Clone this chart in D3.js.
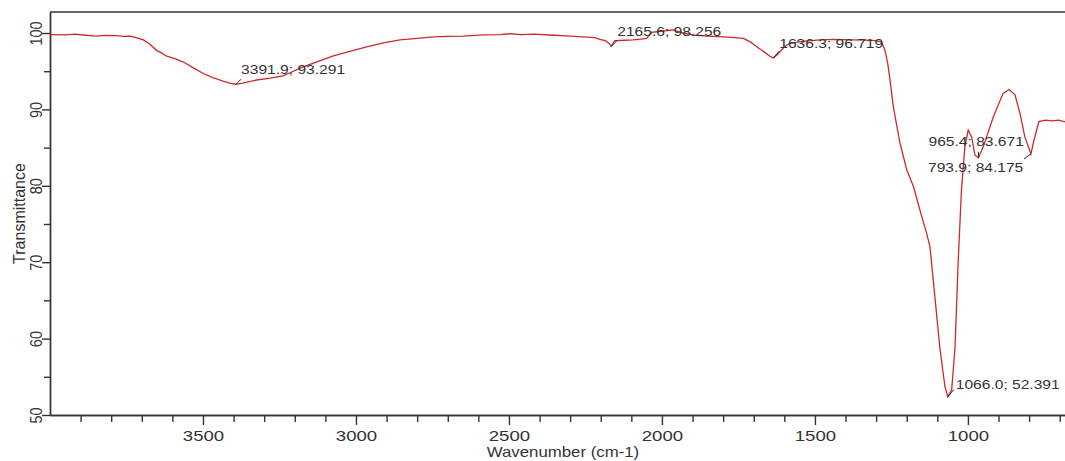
<!DOCTYPE html>
<html lang="en">
<head>
<meta charset="UTF-8">
<title>FTIR spectrum</title>
<script src="https://cdnjs.cloudflare.com/ajax/libs/d3/7.8.5/d3.min.js"></script>
<style>
    body { margin: 0; background: #fff; }
    svg { display: block; font-family: "Liberation Sans", Arial, sans-serif; }
    .axis path, .axis line { stroke: #333; stroke-width: 1.4; }
    .axis text { fill: #333; }
</style>
</head>
<body>
<svg id="chart" width="1065" height="461"></svg>
<script>
// spectrum (wavenumber, transmittance)
var wavenumber = [4000, 3950, 3920, 3891, 3850, 3820, 3782, 3760, 3740, 3728, 3710, 3695, 3675, 3651, 3640,
    3620, 3590, 3564, 3530, 3499, 3470, 3434, 3410, 3391.9, 3370, 3325, 3280, 3238, 3210, 3183, 3130, 3074,
    3020, 2965, 2910, 2856, 2800, 2747, 2700, 2650, 2584, 2530, 2497, 2460, 2420, 2366, 2300, 2258, 2220,
    2203, 2185, 2172, 2165.6, 2154, 2120, 2095, 2070, 2050, 2034, 2010, 1964, 1930, 1898, 1850, 1800, 1760,
    1734, 1710, 1690, 1665, 1645, 1636.3, 1625, 1614, 1600, 1582, 1540, 1494, 1440, 1380, 1331, 1300, 1282,
    1270, 1262, 1255, 1244, 1222, 1200, 1178, 1151, 1135, 1124, 1108, 1092, 1075, 1066, 1053, 1042, 1032,
    1021, 1010, 999, 988, 977, 965.4, 950, 917, 885, 865, 846, 830, 814, 793.9, 784, 768, 746, 724, 703, 686, 660];
var transmittance = [99.8, 99.75, 99.85, 99.74, 99.6, 99.7, 99.65, 99.55, 99.6, 99.5, 99.3, 99.1, 98.6, 97.7, 97.5,
    97.0, 96.6, 96.2, 95.4, 94.7, 94.2, 93.7, 93.4, 93.291, 93.45, 93.85, 94.1, 94.4, 94.9, 95.4, 96.2, 97.0,
    97.6, 98.2, 98.7, 99.1, 99.3, 99.5, 99.55, 99.6, 99.75, 99.8, 99.9, 99.8, 99.85, 99.74, 99.6, 99.5, 99.4,
    99.17, 99.0, 98.6, 98.256, 99.0, 99.05, 99.1, 99.2, 99.3, 100.1, 100.2, 100.4, 100.0, 99.74, 99.6, 99.5, 99.4,
    99.3, 98.8, 98.2, 97.5, 96.9, 96.719, 97.1, 97.55, 98.2, 98.65, 98.9, 99.08, 99.17, 99.1, 99.08, 99.0, 98.8,
    97.6, 96.0, 94.0, 90.4, 85.6, 82.1, 79.9, 76.0, 73.8, 72.0, 65.5, 58.9, 53.7, 52.391, 53.3, 58.9, 69.9,
    79.5, 85.1, 87.3, 86.4, 84.0, 83.671, 85.1, 89.0, 92.1, 92.6, 91.9, 89.5, 86.4, 84.175, 86.0, 88.4, 88.6, 88.5, 88.6, 88.4, 88.5];

// peak labels
var peakX = [3391.9, 2165.6, 1636.3, 965.4, 793.9, 1066.0];
var peakY = [93.291, 98.256, 96.719, 83.671, 84.175, 52.391];
var peakText = ["3391.9; 93.291", "2165.6; 98.256", "1636.3; 96.719", "965.4; 83.671", "793.9; 84.175", "1066.0; 52.391"];

var xMajor = [3500, 3000, 2500, 2000, 1500, 1000];
var yMajor = [50, 60, 70, 80, 90, 100];

var svg = d3.select("#chart");
var plotLeft = 50, plotTop = 12, plotBottom = 415;

var x = d3.scaleLinear().domain([4000, 650]).range([plotLeft, 1075]);
var y = d3.scaleLinear().domain([50, 102.75]).range([plotBottom, plotTop]);

// minor ticks every 100 / every 5
var xMinor = d3.range(700, 4000, 100).filter(v => v % 500 !== 0);
var yMinor = d3.range(55, 100, 10);

svg.append("g").attr("class", "axis")
    .attr("transform", "translate(0," + plotBottom + ")")
    .call(d3.axisBottom(x).tickValues(xMinor).tickSize(7).tickFormat("").tickSizeOuter(0));

var xa = svg.append("g").attr("class", "axis")
    .attr("transform", "translate(0," + plotBottom + ")")
    .call(d3.axisBottom(x).tickValues(xMajor).tickSize(10).tickSizeOuter(0).tickFormat(d3.format("d")));
xa.selectAll("text")
    .attr("y", 0).attr("dy", null)
    .attr("transform", "translate(0,26) scale(1.2,1)")
    .style("font-size", "15.5px");

svg.append("g").attr("class", "axis")
    .attr("transform", "translate(" + plotLeft + ",0)")
    .call(d3.axisLeft(y).tickValues(yMinor).tickSize(6).tickFormat("").tickSizeOuter(0));

var ya = svg.append("g").attr("class", "axis")
    .attr("transform", "translate(" + plotLeft + ",0)")
    .call(d3.axisLeft(y).tickValues(yMajor).tickSize(8).tickSizeOuter(0).tickFormat(d3.format("d")));
ya.selectAll("text")
    .attr("x", 0).attr("dy", null)
    .attr("text-anchor", "middle")
    .attr("transform", "translate(-8,0) scale(1.2,1) rotate(-90)")
    .style("font-size", "14.5px");

// top frame line
svg.append("line")
    .attr("x1", plotLeft).attr("x2", 1065)
    .attr("y1", plotTop).attr("y2", plotTop)
    .attr("stroke", "#333").attr("stroke-width", 1.4);

// axis titles
svg.append("text")
    .attr("transform", "translate(25," + ((plotTop + plotBottom) / 2) + ") rotate(-90)")
    .attr("text-anchor", "middle")
    .attr("fill", "#333")
    .style("font-size", "16px")
    .text("Transmittance");

svg.append("text")
    .attr("transform", "translate(563,457) scale(1.2,1)")
    .attr("text-anchor", "middle")
    .attr("fill", "#333")
    .style("font-size", "14px")
    .text("Wavenumber (cm-1)");

// spectrum
var pts = wavenumber.map((w, i) => [w, transmittance[i]]);
var line = d3.line().x(d => x(d[0])).y(d => y(d[1]));

svg.append("path")
    .datum(pts)
    .attr("d", line)
    .attr("fill", "none")
    .attr("stroke", "#cc2a2a")
    .attr("stroke-width", 1.3);

// label offsets: leader end and text start relative to the peak point
var leadDx = [5, 6, 6, 0, -7, 6];
var leadDy = [-5, -6, -7, -6, 5, -7];
var textDx = [5, 6, 6, -50, -103, 8];
var textDy = [-10, -10, -10, -12, 18, -8];

peakX.forEach(function (p, i) {
    var px = x(p), py = y(peakY[i]);
    svg.append("line")
        .attr("x1", px).attr("y1", py)
        .attr("x2", px + leadDx[i]).attr("y2", py + leadDy[i])
        .attr("stroke", "#222").attr("stroke-width", 1);
    svg.append("text")
        .attr("transform", "translate(" + (px + textDx[i]) + "," + (py + textDy[i]) + ") scale(1.2,1)")
        .attr("fill", "#333")
        .style("font-size", "13px")
        .text(peakText[i]);
});
</script>
</body>
</html>
